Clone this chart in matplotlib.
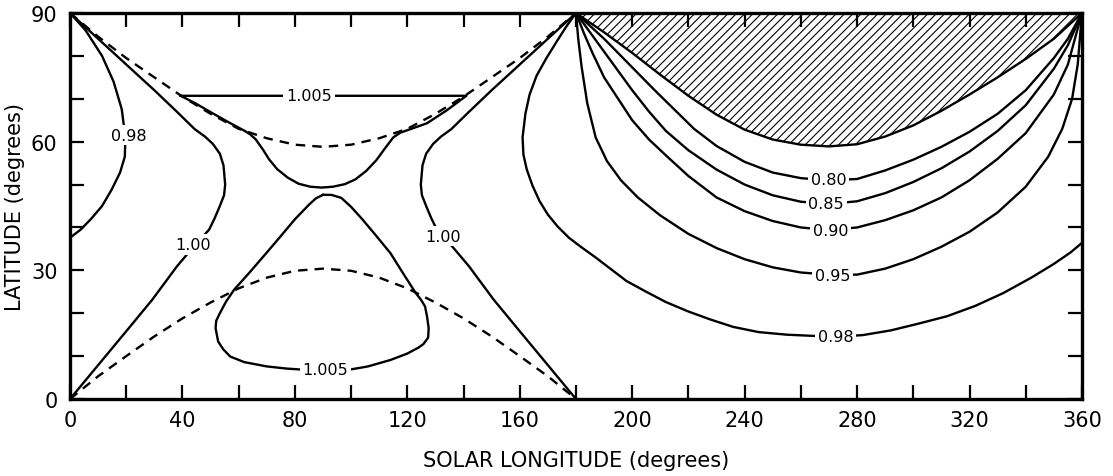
import matplotlib
matplotlib.use("Agg")
import matplotlib.pyplot as plt
import numpy as np

# dashed curves (left half)
dash_lon = [0, 10, 20, 30, 40, 50, 60, 70, 80, 90, 100, 110, 120, 130, 140, 150, 160, 170, 180]
dash_up_lat = [90, 84.5, 79.5, 75, 70.5, 66.5, 63, 60.8, 59.3, 58.8, 59.3, 60.8, 63, 66.5, 70.5, 75, 79.5, 84.5, 90]
dash_lo_lat = [0, 5.3, 10, 14.6, 18.8, 22.5, 25.8, 28.3, 29.9, 30.4, 29.9, 28.3, 25.8, 22.5, 18.8, 14.6, 10, 5.3, 0]

# left half contours
c098_left_lon = [0, 5.5, 11.4, 15.5, 18.4, 19.7, 19.5, 17.8, 14.8, 11.4, 7.5, 3.8, 0]
c098_left_lat = [90, 86, 80, 74, 67.6, 61, 56.5, 52.8, 48.8, 45, 42, 39.5, 37.6]

c100_a_lon = [0, 10, 20, 30, 38, 44.4, 48, 50.8, 53.3, 54.6, 55.2, 54.8, 53.3, 51.5, 49.5, 43.8, 38, 29.2, 20, 10, 0]
c100_a_lat = [90, 84, 78, 72, 67, 62.9, 61.2, 59.5, 57.2, 54.5, 50, 47.5, 45, 42.2, 39.5, 35.4, 30.9, 23.1, 15.8, 7.9, 0]

c100_b_lon = [180, 170, 160, 150, 142, 135.6, 132, 129.2, 126.7, 125.4, 124.8, 125.2, 126.7, 128.5, 130.5, 136.2, 142, 150.8, 160, 170, 180]
c100_b_lat = [90, 84, 78, 72, 67, 62.9, 61.2, 59.5, 57.2, 54.5, 50, 47.5, 45, 42.2, 39.5, 35.4, 30.9, 23.1, 15.8, 7.9, 0]

c1005_up_lon = [39.4, 141, 134, 127, 121, 117.5, 115, 112, 109, 105.4, 101.5, 97.8, 93.5, 89.5, 85.5, 81.3,
                77.5, 73.7, 70.8, 68.6, 66, 64.1, 62.2, 56.5, 50.8, 45, 39.4]
c1005_up_lat = [70.7, 70.7, 67.3, 64.3, 62.9, 62.1, 61, 58.4, 55.7, 53.2, 51.2, 50.1, 49.5, 49.3, 49.5, 50.2,
                51.6, 53.6, 55.9, 58.2, 60.6, 61.7, 62.5, 64.5, 66.6, 68.8, 70.7]

c1005_lo_lon = [90, 87.5, 85, 80, 75, 69.8, 64, 58.4, 55.5, 53.3, 52, 51.8, 52.7, 54.5, 57, 62, 70, 77, 83.8,
                90.8, 99, 106, 114, 120, 124, 125.7, 127.4, 127.6, 127, 126.3, 124.8, 123, 118.5, 114, 109,
                104, 100, 96.5, 93, 90]
c1005_lo_lat = [47.6, 46.8, 45.3, 41.9, 38, 34, 29.6, 25.5, 22.7, 20, 18.2, 16.5, 13.4, 11.6, 9.9, 8.6, 7.6,
                7.1, 6.8, 6.7, 6.8, 7.6, 9.1, 10.6, 12, 12.8, 14.3, 16.5, 19.3, 21.6, 23.2, 24.7, 29.3, 34, 38,
                41.9, 44.8, 46.9, 47.6, 47.6]

# right half contours
hatch_lon = [180, 190, 200, 210, 220, 230, 240, 250, 260, 270, 280, 290, 300, 310, 320, 330, 340, 350, 355, 360]
hatch_lat = [90, 85.5, 80.7, 75.6, 70.7, 66.3, 62.8, 60.5, 59.3, 58.9, 59.4, 61.2, 63.8, 67.2, 71, 75, 79.3, 84, 87, 90]

c080_lon = [180, 185, 190, 196, 202, 208, 215, 222, 230, 240, 250, 260, 270, 280, 290, 300, 310, 320, 330, 340, 350, 355, 360]
c080_lat = [90, 87, 84, 80, 76, 72, 67.5, 63, 59, 55.3, 52.8, 51.5, 51, 51.3, 53.3, 55.8, 58.8, 62.3, 66.5, 72, 79.5, 84, 90]

c085_lon = [180, 185, 190, 195, 200, 206, 212, 220, 230, 240, 250, 260, 270, 280, 290, 300, 310, 320, 330, 340, 350, 355, 360]
c085_lat = [90, 85.5, 81, 76.5, 72, 67, 62.5, 58, 53.5, 50, 47.5, 46, 45.5, 46.1, 48, 50.6, 53.8, 57.7, 62.5, 68.5, 77, 82.5, 90]

c090_lon = [180, 183, 186, 190, 195, 200, 206, 212, 220, 230, 240, 250, 260, 270, 280, 290, 300, 310, 320, 330, 340, 350, 355, 360]
c090_lat = [90, 85, 80.5, 75, 70, 65, 60.5, 56.8, 52, 47, 43.8, 41.5, 40, 39.4, 40, 41.7, 44, 47, 51, 56, 62, 71, 78, 90]

c095_lon = [180, 180.8, 182, 184, 187, 191, 196, 202, 210, 220, 230, 240, 250, 260, 270, 280, 290, 300, 310,
            320, 330, 340, 348, 353, 356.5, 358.5, 360]
c095_lat = [90, 84, 77.5, 69, 61, 55.5, 51, 47, 42.8, 38.5, 35.2, 32.6, 30.7, 29.5, 29, 29, 30.4, 32.6, 35.5,
            39, 43.5, 49.5, 56.5, 63, 70, 78, 90]

c098_right_lon = [180, 176.5, 173, 169.5, 166, 163.5, 162, 161, 161.3, 162.5, 164.5, 167, 170, 173.5, 177.5,
                  181.5, 187, 192, 198, 205, 212, 220, 228, 236, 245, 255, 265, 272, 282, 292, 302, 312, 322,
                  332, 342, 350, 356, 360]
c098_right_lat = [90, 86.8, 83.2, 79.5, 75.4, 71, 66.5, 61, 57, 53.5, 49.8, 46.2, 43, 40.2, 37.6,
                  35.6, 33, 30.5, 27.5, 25, 22.6, 20.4, 18.5, 16.8, 15.6, 15, 14.7, 14.5, 14.9, 16, 17.6, 19.3,
                  21.7, 24.7, 28.3, 31.5, 34.2, 36.4]

# contour labels: text, lon, lat
labels = [("0.98", 21, 61.5), ("1.00", 43.8, 36), ("1.00", 132.7, 38),
          ("1.005", 85, 70.7), ("1.005", 90.8, 6.8),
          ("0.80", 269.8, 51.1), ("0.85", 269, 45.6), ("0.90", 270.5, 39.3),
          ("0.95", 271.2, 28.8), ("0.98", 272.4, 14.5)]

plt.rcParams['hatch.linewidth'] = 0.8

fig = plt.figure(figsize=(11.13, 4.77), dpi=100)
ax = fig.add_axes([0.0629, 0.1614, 0.9092, 0.8092])

lw = 1.7
ax.fill_between(hatch_lon, hatch_lat, 90, facecolor='none', edgecolor='black', hatch='////', linewidth=0)

ax.plot(dash_lon, dash_up_lat, color='black', lw=lw, ls=(0, (4, 3)))
ax.plot(dash_lon, dash_lo_lat, color='black', lw=lw, ls=(0, (4, 3)))

for xs, ys in [(c098_left_lon, c098_left_lat), (c100_a_lon, c100_a_lat), (c100_b_lon, c100_b_lat),
               (c1005_up_lon, c1005_up_lat), (c1005_lo_lon, c1005_lo_lat),
               (hatch_lon, hatch_lat), (c080_lon, c080_lat), (c085_lon, c085_lat),
               (c090_lon, c090_lat), (c095_lon, c095_lat), (c098_right_lon, c098_right_lat)]:
    ax.plot(xs, ys, color='black', lw=lw, solid_joinstyle='round')

for txt, x, y in labels:
    ax.text(x, y, txt, ha='center', va='center', fontsize=11.5,
            bbox=dict(facecolor='white', edgecolor='none', pad=2))

ax.set_xlim(0, 360)
ax.set_ylim(0, 90)
xt = np.arange(0, 361, 20)
ax.set_xticks(xt)
ax.set_xticklabels([str(v) if v % 40 == 0 else '' for v in xt])
yt = np.arange(0, 91, 10)
ax.set_yticks(yt)
ax.set_yticklabels([str(v) if v % 30 == 0 else '' for v in yt])
ax.tick_params(direction='in', length=10, width=1.6, top=True, right=True, labelsize=15)
ax.tick_params(axis='x', pad=8)
ax.tick_params(axis='y', pad=9)
for s in ax.spines.values():
    s.set_linewidth(2.4)

ax.set_xlabel("SOLAR LONGITUDE (degrees)", fontsize=15, labelpad=14)
ax.set_ylabel("LATITUDE (degrees)", fontsize=15, labelpad=4)

fig.savefig("out.png", dpi=100)
